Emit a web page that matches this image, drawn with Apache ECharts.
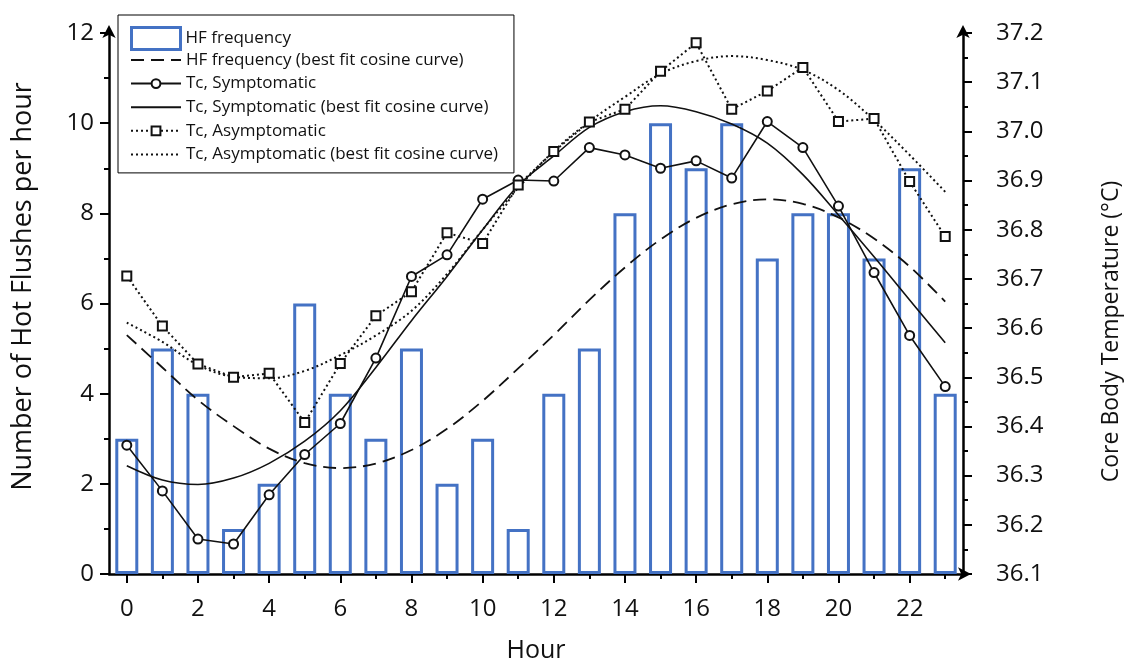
<!DOCTYPE html>
<html>
<head>
<meta charset="utf-8">
<script src="https://cdn.jsdelivr.net/npm/echarts@6/dist/echarts.min.js"></script>
<style>
  html, body { margin: 0; padding: 0; background: #fff; }
  #chart { width: 1124px; height: 660px; }
</style>
</head>
<body>
<div id="chart"></div>
<script>
// Hour of day (x categories)
const hours = ['0','1','2','3','4','5','6','7','8','9','10','11','12','13','14','15','16','17','18','19','20','21','22','23'];

// Hot flush frequency per hour (left axis)
const hfFrequency = [3, 5, 4, 1, 2, 6, 4, 3, 5, 2, 3, 1, 4, 5, 8, 10, 9, 10, 7, 8, 8, 7, 9, 4];
const hfFit = [5.30, 4.58, 3.86, 3.28, 2.78, 2.46, 2.35, 2.45, 2.75, 3.22, 3.84, 4.56,
               5.30, 6.08, 6.80, 7.42, 7.90, 8.20, 8.31, 8.21, 7.91, 7.44, 6.82, 6.04];

// Core body temperature, °C (right axis)
const tcSymptomatic = [36.362, 36.269, 36.171, 36.161, 36.261, 36.343, 36.406, 36.539, 36.705, 36.749, 36.862, 36.901,
                       36.899, 36.967, 36.952, 36.925, 36.940, 36.905, 37.020, 36.967, 36.848, 36.713, 36.585, 36.481];
const tcSymptomaticFit = [36.320, 36.291, 36.282, 36.295, 36.325, 36.370, 36.432, 36.520, 36.615, 36.705, 36.800, 36.890,
                          36.950, 37.008, 37.040, 37.052, 37.040, 37.015, 36.976, 36.912, 36.830, 36.745, 36.657, 36.570];
const tcAsymptomatic = [36.706, 36.604, 36.527, 36.500, 36.508, 36.408, 36.528, 36.625, 36.674, 36.794, 36.772, 36.891,
                        36.959, 37.019, 37.045, 37.122, 37.180, 37.045, 37.082, 37.130, 37.020, 37.026, 36.898, 36.786];
const tcAsymptomaticFit = [36.611, 36.572, 36.525, 36.501, 36.498, 36.513, 36.545, 36.585, 36.635, 36.710, 36.800, 36.885,
                           36.960, 37.020, 37.070, 37.117, 37.143, 37.153, 37.145, 37.125, 37.084, 37.023, 36.952, 36.877];

const seriesNames = [
  'HF frequency',
  'HF frequency (best fit cosine curve)',
  'Tc, Symptomatic',
  'Tc, Symptomatic (best fit cosine curve)',
  'Tc, Asymptomatic',
  'Tc, Asymptomatic (best fit cosine curve)'
];

const FONT = '"Open Sans", "Noto Sans", sans-serif';
const INK = '#111';
const BLUE = '#4472C4';

const axisLineStyle = { color: '#000', width: 2.5 };
const tickStyle = { color: '#000', width: 2 };
const arrowLine = {
  show: true,
  lineStyle: axisLineStyle,
  symbol: ['none', 'arrow'],
  symbolSize: [10, 13],
  symbolOffset: [0, 8]
};
const labelText = { fontSize: 24, color: INK, fontFamily: FONT };
const legendText = { fontSize: 17, color: INK, fontFamily: FONT };

const chart = echarts.init(document.getElementById('chart'), null, { renderer: 'canvas' });

chart.setOption({
  animation: false,
  backgroundColor: '#fff',
  grid: { left: 109, right: 161, top: 33, bottom: 86, containLabel: false, outerBoundsMode: 'none' },
  legend: [
    {
      // framed box holding the five line entries
      orient: 'vertical',
      left: 118,
      top: 15,
      padding: [36.5, 16, 10, 12],
      itemWidth: 50,
      itemHeight: 11,
      itemGap: 6.6,
      borderColor: '#000',
      borderWidth: 1,
      backgroundColor: '#fff',
      selectedMode: false,
      z: 5,
      textStyle: legendText,
      data: [
        { name: seriesNames[1], itemStyle: { opacity: 0 } },
        { name: seriesNames[2] },
        { name: seriesNames[3], itemStyle: { opacity: 0 } },
        { name: seriesNames[4] },
        { name: seriesNames[5], itemStyle: { opacity: 0 } }
      ]
    },
    {
      // bar entry at the top of the box
      orient: 'vertical',
      left: 130,
      top: 26,
      padding: 0,
      itemWidth: 49,
      itemHeight: 22,
      selectedMode: false,
      z: 6,
      textStyle: legendText,
      data: [
        { name: seriesNames[0], icon: 'rect', itemStyle: { color: '#fff', borderColor: BLUE, borderWidth: 3 } }
      ]
    }
  ],
  xAxis: [
    {
      type: 'category',
      data: hours,
      position: 'bottom',
      boundaryGap: true,
      name: 'Hour',
      nameLocation: 'middle',
      nameGap: 64,
      nameTextStyle: { fontSize: 25, color: INK, fontFamily: FONT },
      axisLine: arrowLine,
      axisTick: { show: true, interval: 1, alignWithLabel: true, length: 9, lineStyle: tickStyle },
      axisLabel: Object.assign({ interval: 1, margin: 23 }, labelText),
      splitLine: { show: false }
    },
    {
      // short ticks at every hour
      type: 'category',
      data: hours,
      position: 'bottom',
      boundaryGap: true,
      axisLine: { show: false },
      axisTick: { show: true, interval: 0, alignWithLabel: true, length: 5, lineStyle: tickStyle },
      axisLabel: { show: false },
      splitLine: { show: false }
    }
  ],
  yAxis: [
    {
      type: 'value',
      position: 'left',
      min: 0,
      max: 12,
      interval: 2,
      name: 'Number of Hot Flushes per hour',
      nameLocation: 'middle',
      nameGap: 72,
      nameRotate: 90,
      nameTextStyle: { fontSize: 27, color: INK, fontFamily: FONT, padding: [0, 0, 0, 34] },
      axisLine: arrowLine,
      axisTick: { show: true, length: 9, lineStyle: tickStyle },
      minorTick: { show: true, splitNumber: 2, length: 5, lineStyle: tickStyle },
      axisLabel: Object.assign({ margin: 15 }, labelText),
      splitLine: { show: false },
      minorSplitLine: { show: false }
    },
    {
      type: 'value',
      position: 'right',
      min: 36.1,
      max: 37.2,
      interval: 0.1,
      name: 'Core Body Temperature (°C)',
      nameLocation: 'middle',
      nameGap: 137,
      nameRotate: 90,
      nameTextStyle: { fontSize: 23, color: INK, fontFamily: FONT, padding: [0, 56, 0, 0] },
      axisLine: arrowLine,
      axisTick: { show: true, length: 9, lineStyle: tickStyle },
      minorTick: { show: true, splitNumber: 2, length: 5, lineStyle: tickStyle },
      axisLabel: Object.assign({ margin: 33, formatter: v => v.toFixed(1) }, labelText),
      splitLine: { show: false },
      minorSplitLine: { show: false }
    }
  ],
  series: [
    {
      name: seriesNames[0],
      type: 'bar',
      xAxisIndex: 0,
      yAxisIndex: 0,
      data: hfFrequency,
      barWidth: 23,
      itemStyle: { color: 'rgba(255,255,255,0)', borderColor: BLUE, borderWidth: 3 },
      silent: true,
      z: 1
    },
    {
      name: seriesNames[1],
      type: 'line',
      xAxisIndex: 0,
      yAxisIndex: 0,
      data: hfFit,
      smooth: 0.35,
      symbol: 'none',
      itemStyle: { color: INK },
      lineStyle: { color: INK, width: 1.8, type: [13, 7] },
      silent: true,
      z: 3
    },
    {
      name: seriesNames[2],
      type: 'line',
      xAxisIndex: 0,
      yAxisIndex: 1,
      data: tcSymptomatic,
      symbol: 'emptyCircle',
      symbolSize: 9,
      showAllSymbol: true,
      itemStyle: { color: INK, borderWidth: 1.5 },
      lineStyle: { color: INK, width: 1.6 },
      silent: true,
      z: 5
    },
    {
      name: seriesNames[3],
      type: 'line',
      xAxisIndex: 0,
      yAxisIndex: 1,
      data: tcSymptomaticFit,
      smooth: 0.35,
      symbol: 'none',
      itemStyle: { color: INK },
      lineStyle: { color: INK, width: 1.6 },
      silent: true,
      z: 4
    },
    {
      name: seriesNames[4],
      type: 'line',
      xAxisIndex: 0,
      yAxisIndex: 1,
      data: tcAsymptomatic,
      symbol: 'emptyRect',
      symbolSize: 9,
      showAllSymbol: true,
      itemStyle: { color: INK, borderWidth: 1.5 },
      lineStyle: { color: INK, width: 2, type: [2, 3] },
      silent: true,
      z: 5
    },
    {
      name: seriesNames[5],
      type: 'line',
      xAxisIndex: 0,
      yAxisIndex: 1,
      data: tcAsymptomaticFit,
      smooth: 0.35,
      symbol: 'none',
      itemStyle: { color: INK },
      lineStyle: { color: INK, width: 2, type: [2, 3] },
      silent: true,
      z: 4
    }
  ]
});
</script>
</body>
</html>
